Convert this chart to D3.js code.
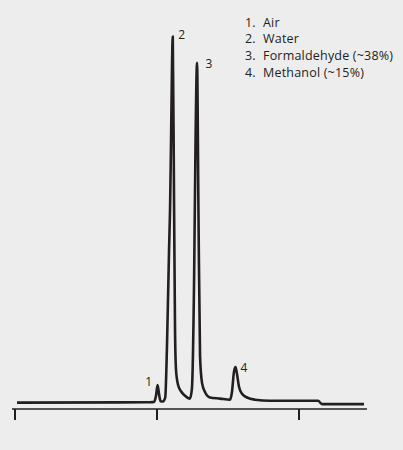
<!DOCTYPE html>
<html>
<head>
<meta charset="utf-8">
<script src="https://cdn.jsdelivr.net/npm/d3@7"></script>
<style>
  html, body { margin: 0; padding: 0; background: #ededed; }
  svg { display: block; }
  text { font-family: "Open Sans", "Noto Sans", sans-serif; fill: #231f20; }
</style>
</head>
<body>
<svg id="chart" width="403" height="450"></svg>
<script>
// retention time (min) of each trace point
var times = [0.014, 0.951, 0.979, 0.993, 1.004, 1.014, 1.025, 1.042, 1.058, 1.070,
             1.085, 1.092, 1.099, 1.111, 1.120, 1.127, 1.134, 1.148, 1.169, 1.197,
             1.232, 1.246, 1.261, 1.271, 1.282, 1.292, 1.303, 1.317, 1.338, 1.373,
             1.444, 1.514, 1.528, 1.542, 1.553, 1.563, 1.577, 1.599, 1.634, 1.690,
             1.796, 2.134, 2.162, 2.458];
// detector signal (% of largest peak)
var signal = [0.1, 0.2, 0.3, 2, 4.9, 2.5, 0.5, 0.4, 1.5, 15,
              42, 53, 72, 100, 55, 20, 9, 5, 3.2, 2,
              1.2, 4, 33, 70, 92.8, 52, 13, 5.5, 3, 1.5,
              1.2, 0.9, 3, 8.5, 9.8, 8, 4.5, 2.5, 1.5, 0.9,
              0.6, 0.6, -0.3, -0.3];

var peakIds = ["1", "2", "3", "4"];
var peakTimes = [1.004, 1.111, 1.282, 1.553];
var peakHeights = [4.9, 100, 92.8, 9.8];

var legendItems = ["Air", "Water", "Formaldehyde (~38%)", "Methanol (~15%)"];
var tickValues = [0, 1, 2];

var svg = d3.select('#chart');

var x = d3.scaleLinear()
          .domain([0, 2])
          .range([15, 299]);
var y = d3.scaleLinear()
          .domain([0, 100])
          .range([403, 36.5]);

// axis
var axis = svg.append('g')
    .attr('transform', 'translate(0,409)');
axis.append('line')
    .attr('x1', 12)
    .attr('x2', 367)
    .attr('stroke', '#231f20')
    .attr('stroke-width', 1.3);
axis.selectAll('.tick')
    .data(tickValues)
    .enter()
    .append('line')
    .attr('class', 'tick')
    .attr('x1', d => x(d))
    .attr('x2', d => x(d))
    .attr('y1', 0)
    .attr('y2', 11)
    .attr('stroke', '#231f20')
    .attr('stroke-width', 2);

// trace
var pts = times.map((t, i) => [t, signal[i]]);
svg.append('path')
    .datum(pts)
    .attr('fill', 'none')
    .attr('stroke', '#231f20')
    .attr('stroke-width', 2.6)
    .attr('stroke-linejoin', 'round')
    .attr('d', d3.line()
                .x(d => x(d[0]))
                .y(d => y(d[1]))
                .curve(d3.curveMonotoneX));

// peak numbers
var labelDx = [-5.5, 5.5, 8.5, 5];
var labelDy = [1, 2.5, 5, 5];
svg.selectAll('.peak-label')
    .data(peakIds)
    .enter()
    .append('text')
    .attr('class', 'peak-label')
    .attr('x', (d, i) => x(peakTimes[i]) + labelDx[i])
    .attr('y', (d, i) => y(peakHeights[i]) + labelDy[i])
    .attr('text-anchor', (d, i) => i == 0 ? 'end' : 'start')
    .attr('font-size', '12px')
    .text(d => d);

// legend
var legend = svg.append('g');
legend.selectAll('.num')
    .data(legendItems)
    .enter()
    .append('text')
    .attr('x', 245)
    .attr('y', (d, i) => 26.7 + i * 16.7)
    .attr('font-size', '12.5px')
    .text((d, i) => (i + 1) + '.');
legend.selectAll('.name')
    .data(legendItems)
    .enter()
    .append('text')
    .attr('x', 263)
    .attr('y', (d, i) => 26.7 + i * 16.7)
    .attr('font-size', '12.5px')
    .attr('letter-spacing', '0.2px')
    .text(d => d);
</script>
</body>
</html>
